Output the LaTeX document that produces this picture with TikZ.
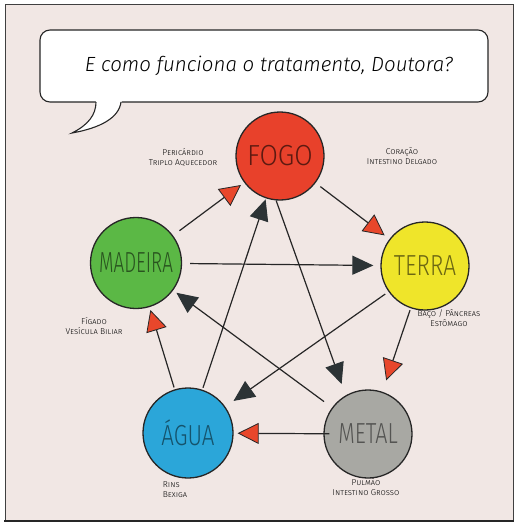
\documentclass[tikz,border=0pt]{standalone}
\usepackage{fontspec}
\setmainfont{Fira Sans}
\newfontfamily\leve{Fira Sans Light}
\usetikzlibrary{arrows.meta}
\definecolor{fundo}{HTML}{F1E7E4}
\definecolor{fogo}{HTML}{E8412B}
\definecolor{terra}{HTML}{EFE52A}
\definecolor{metal}{HTML}{A8A8A3}
\definecolor{agua}{HTML}{2BA6D9}
\definecolor{madeira}{HTML}{5BB845}
\definecolor{setavermelha}{HTML}{E8472B}
\definecolor{setaescura}{HTML}{2C3335}
\def\elemento#1#2#3{{\color{#1}\leve\fontsize{29}{29}\selectfont\scalebox{#2}[1]{#3}}}

\tikzset{
  elem/.style={circle, draw=black!85, line width=1.3pt, minimum size=88pt, inner sep=0pt},
  gera/.style={-{Triangle[length=21pt,width=21pt,fill=setavermelha,color=black!85,line width=0.8pt]}, line width=1.2pt, black!85},
  domina/.style={-{Triangle[length=21pt,width=19pt,fill=setaescura,color=setaescura]}, line width=1.2pt, black!85},
  orgao/.style={font=\leve\fontsize{8.5}{10}\selectfont\scshape, align=center, inner sep=0pt}
}

\begin{document}
\begin{tikzpicture}[x=1pt,y=-1pt]
  \useasboundingbox (0,0) rectangle (516,524);

  %%%%% quadro %%%%%
  \fill[fundo] (5,5) rectangle (513,520);
  \draw[black!75, line width=1pt] (5,520) -- (5,5) -- (513,5) -- (513,520);
  \draw[black!85, line width=2pt] (4,521) -- (514,521);

  %%%%% balao %%%%%
  \node[draw=black!85, fill=white, line width=1.1pt, rounded corners=10pt,
        minimum width=448pt, minimum height=72pt] (fala) at (264,66)
        {\hspace{10pt}\leve\fontsize{20.5}{21}\selectfont\itshape E como funciona o tratamento, Doutora?};
  \fill[white] (96,100) -- (122,100) .. controls (119,118) and (100,128) .. (72,133)
        .. controls (88,125) and (96,115) .. cycle;
  \draw[black!85, line width=1.1pt] (96,102) .. controls (96,115) and (88,125) .. (72,133)
        .. controls (100,128) and (119,118) .. (121,102);

  %%%%% elementos %%%%%
  \node[elem, fill=fogo] (fogo) at (280,156) {\elemento{black!60!fogo}{0.92}{FOGO}};
  \node[elem, fill=terra] (terra) at (425,266) {\elemento{black!55!terra}{0.78}{TERRA}};
  \node[elem, fill=metal] (metal) at (368,434) {\elemento{black!50!metal}{0.74}{METAL}};
  \node[elem, fill=agua, minimum size=90pt] (agua) at (188,433) {\elemento{black!50!agua}{0.77}{ÁGUA}};
  \node[elem, fill=madeira, minimum size=91pt] (madeira) at (136,263) {\elemento{black!55!madeira}{0.65}{MADEIRA}};

  %%%%% orgaos %%%%%
  \node[orgao] (pericardio) at (183,157) {Pericárdio\\Triplo Aquecedor};
  \node[orgao] (coracao) at (402,156) {Coração\\Intestino Delgado};
  \node[orgao] (figado) at (94,326) {Fígado\\Vesícula Biliar};
  \node[orgao] (baco) at (449,318) {Baço / Pâncreas\\Estômago};
  \node[orgao, align=left] (rins) at (175,490) {Rins\\Bexiga};
  \node[orgao] (pulmao) at (366,487) {Pulmão\\Intestino Grosso};

  %%%%% ciclo de geracao %%%%%
  \draw[gera, shorten <=8pt, shorten >=4pt] (madeira) -- (fogo);
  \draw[gera, shorten <=6pt, shorten >=6pt] (fogo) -- (terra);
  \draw[gera, shorten <=2pt, shorten >=12pt] (terra) -- (metal);
  \draw[gera, shorten <=-6pt, shorten >=4pt] (metal) -- (agua);
  \draw[gera, shorten <=2pt, shorten >=3pt] (agua) -- (madeira);

  %%%%% ciclo de controle %%%%%
  \draw[domina, shorten <=8pt, shorten >=7pt] (madeira) -- (terra);
  \draw[domina, shorten <=4pt, shorten >=10pt] (terra) -- (agua);
  \draw[domina, shorten <=2pt, shorten >=1pt] (agua) -- (fogo);
  \draw[domina, shorten >=12pt] (fogo.265) -- (metal.120);
  \draw[domina, shorten <=10pt, shorten >=4pt] (metal) -- (madeira);
\end{tikzpicture}
\end{document}
